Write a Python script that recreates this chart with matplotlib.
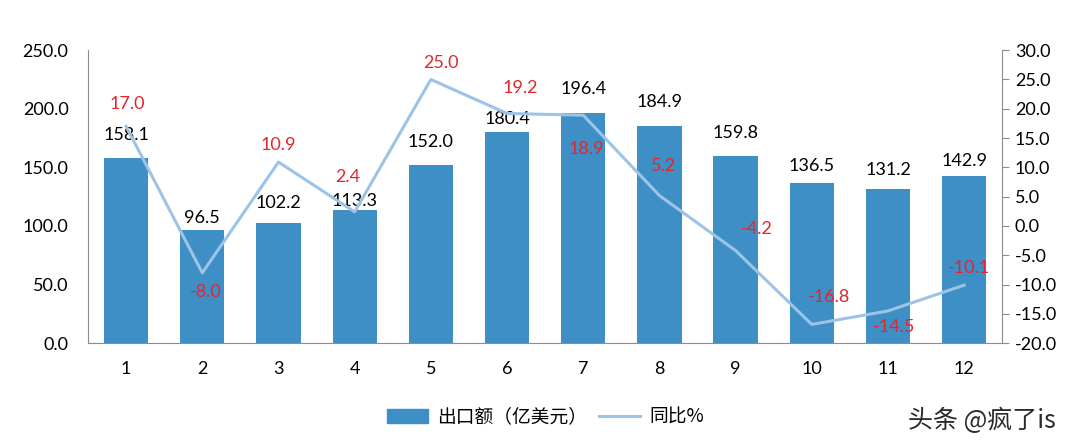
import matplotlib.pyplot as plt
import numpy as np

plt.rcParams['font.family'] = ['Lato', 'Noto Sans CJK SC', 'DejaVu Sans']

months = ["1", "2", "3", "4", "5", "6", "7", "8", "9", "10", "11", "12"]
exports = [158.1, 96.5, 102.2, 113.3, 152.0, 180.4, 196.4, 184.9, 159.8, 136.5, 131.2, 142.9]
yoy = [17.0, -8.0, 10.9, 2.4, 25.0, 19.2, 18.9, 5.2, -4.2, -16.8, -14.5, -10.1]

# label placement in pixels
bar_lab_dy = [23, 12, 20, 9, 23, 13, 24, 24, 23, 17, 19, 15]
yoy_lab_off = [(1, 22), (3, -19), (0, 17), (-7, 35), (10, 16), (13, 25), (3, -34),
               (4, 30), (21, 22), (17, 27), (6, -16), (5, 17)]

bar_color = "#3E8FC5"
line_color = "#9DC3E6"
red = "#E3262D"
axis_gray = "#8C8C8C"
fs = 13

fig = plt.figure(figsize=(10.8, 4.48), dpi=100)
ax = fig.add_axes([0.0815, 0.234, 0.8465, 0.654])
x = np.arange(len(months))

ax.bar(x, exports, width=0.58, color=bar_color, zorder=2)
ax.set_ylim(0, 250)
ax.set_xlim(-0.5, 11.5)
ax.set_yticks(np.arange(0, 251, 50))
ax.set_yticklabels([f"{v:.1f}" for v in np.arange(0, 251, 50)], fontsize=fs)
ax.set_xticks(x)
ax.set_xticklabels(months, fontsize=fs)
ax.tick_params(axis='y', length=0, pad=14)
ax.tick_params(axis='x', length=0, pad=13)
for s in ["top", "right"]:
    ax.spines[s].set_visible(False)
ax.spines["left"].set_color(axis_gray)
ax.spines["bottom"].set_color(axis_gray)

for xi, v, dy in zip(x, exports, bar_lab_dy):
    ax.annotate(f"{v:.1f}", (xi, v), xytext=(0, dy), textcoords="offset pixels",
                ha="center", va="center", fontsize=fs, color="black", zorder=5)

ax2 = ax.twinx()
ax2.plot(x, yoy, color=line_color, lw=2.2, zorder=3)
ax2.set_ylim(-20, 30)
ax2.set_yticks(np.arange(-20, 31, 5))
ax2.set_yticklabels([f"{v:.1f}" for v in np.arange(-20, 31, 5)], fontsize=fs)
ax2.tick_params(axis='y', length=5, color=axis_gray, pad=4)
for s in ["top", "left", "bottom"]:
    ax2.spines[s].set_visible(False)
ax2.spines["right"].set_color(axis_gray)

for xi, v, (dx, dy) in zip(x, yoy, yoy_lab_off):
    ax2.annotate(f"{v:.1f}", (xi, v), xytext=(dx, dy), textcoords="offset pixels",
                 ha="center", va="center", fontsize=fs, color=red, zorder=6)

handles = [plt.Rectangle((0, 0), 1, 1, color=bar_color),
           plt.Line2D([0], [0], color=line_color, lw=2.2)]
fig.legend(handles, ["出口额（亿美元）", "同比%"], loc="center", bbox_to_anchor=(0.505, 0.069),
           ncol=2, frameon=False, handlelength=2.2, handletextpad=0.5, columnspacing=0.6,
           prop={'family': ['Noto Sans CJK SC', 'DejaVu Sans'], 'size': 13.5})

fig.text(0.909, 0.06, "头条 @疯了is", ha="center", va="center", fontsize=18,
         color="#2A2A2A", family=['Noto Sans CJK SC', 'DejaVu Sans'])

fig.savefig("out.png", dpi=100)
